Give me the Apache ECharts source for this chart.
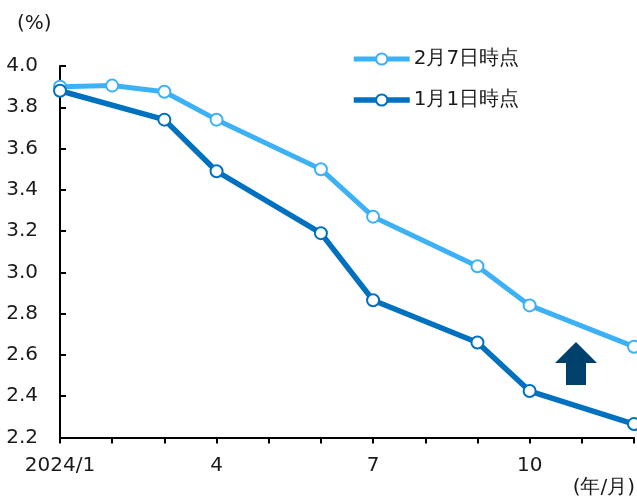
<!DOCTYPE html>
<html>
<head>
<meta charset="utf-8">
<script src="https://cdn.jsdelivr.net/npm/echarts@6/dist/echarts.min.js"></script>
<style>
  html, body { margin: 0; padding: 0; background: #fff; }
  #chart { width: 637px; height: 500px; }
</style>
</head>
<body>
<div id="chart"></div>
<script>
// Month positions on the x axis (2024)
const monthsFeb = [1, 2, 3, 4, 6, 7, 9, 10, 12];
const valuesFeb = [3.90, 3.905, 3.875, 3.74, 3.50, 3.27, 3.03, 2.84, 2.64];
const monthsJan = [1, 3, 4, 6, 7, 9, 10, 12];
const valuesJan = [3.88, 3.74, 3.49, 3.19, 2.865, 2.66, 2.425, 2.265];
const seriesNames = ['2月7日時点', '1月1日時点'];
const xLabelMap = { 1: '2024/1', 4: '4', 7: '7', 10: '10' };
const yTicks = [2.2, 2.4, 2.6, 2.8, 3.0, 3.2, 3.4, 3.6, 3.8, 4.0];

const FONT = 'DejaVu Sans';
const FS = 20;
const TEXT = '#1a1a1a';
const LIGHT = '#3db1f5';
const DARK = '#0071bf';

const pairs = (xs, ys) => xs.map((x, i) => [x, ys[i]]);

const chart = echarts.init(document.getElementById('chart'));

const lineSeries = (name, data, color, width) => ({
  name: name,
  type: 'line',
  data: data,
  symbol: 'circle',
  symbolSize: 12,
  clip: false,
  lineStyle: { color: color, width: width },
  itemStyle: { color: '#fff', borderColor: color, borderWidth: 2 },
  emphasis: { disabled: true },
  z: 3
});

chart.setOption({
  animation: false,
  textStyle: { fontFamily: FONT, color: TEXT },
  grid: { left: 60, right: 2, top: 66, bottom: 62.5, containLabel: false },
  legend: {
    orient: 'vertical',
    left: 346,
    top: 44,
    itemWidth: 56,
    itemHeight: 14,
    itemGap: 21,
    textStyle: { fontFamily: FONT, fontSize: FS, color: TEXT, padding: [0, 0, 0, -1] },
    data: [
      { name: seriesNames[0], lineStyle: { width: 5, color: LIGHT }, itemStyle: { color: '#fff', borderColor: LIGHT, borderWidth: 2 } },
      { name: seriesNames[1], lineStyle: { width: 5.5, color: DARK }, itemStyle: { color: '#fff', borderColor: DARK, borderWidth: 2 } }
    ]
  },
  xAxis: {
    type: 'value',
    min: 1,
    max: 12,
    interval: 1,
    axisLine: { lineStyle: { color: '#000', width: 2 } },
    axisTick: { show: true, length: 6, lineStyle: { color: '#000', width: 2 } },
    splitLine: { show: false },
    axisLabel: {
      margin: 18,
      fontSize: FS,
      fontFamily: FONT,
      color: TEXT,
      showMinLabel: true,
      showMaxLabel: true,
      formatter: v => xLabelMap[v] || ''
    }
  },
  yAxis: {
    type: 'value',
    min: yTicks[0],
    max: yTicks[yTicks.length - 1],
    interval: 0.2,
    axisLine: { show: true, lineStyle: { color: '#000', width: 2 } },
    axisTick: { show: true, inside: true, length: 6, lineStyle: { color: '#000', width: 2 } },
    splitLine: { show: false },
    axisLabel: {
      margin: 22,
      fontSize: FS,
      fontFamily: FONT,
      color: TEXT,
      formatter: v => v.toFixed(1)
    }
  },
  graphic: [
    {
      type: 'text',
      left: 17, top: 14,
      style: { text: '(%)', font: FS + 'px "DejaVu Sans"', fill: TEXT }
    },
    {
      type: 'text',
      right: 2, top: 478,
      style: { text: '(年/月)', font: FS + 'px "DejaVu Sans"', fill: TEXT }
    },
    {
      // upward arrow between the two curves
      type: 'polygon',
      shape: {
        points: [[576, 342], [597, 363], [586, 363], [586, 385], [566, 385], [566, 363], [555, 363]]
      },
      style: { fill: '#00406c' },
      z: 10
    }
  ],
  series: [
    lineSeries(seriesNames[0], pairs(monthsFeb, valuesFeb), LIGHT, 5),
    lineSeries(seriesNames[1], pairs(monthsJan, valuesJan), DARK, 5.5)
  ]
});
</script>
</body>
</html>
